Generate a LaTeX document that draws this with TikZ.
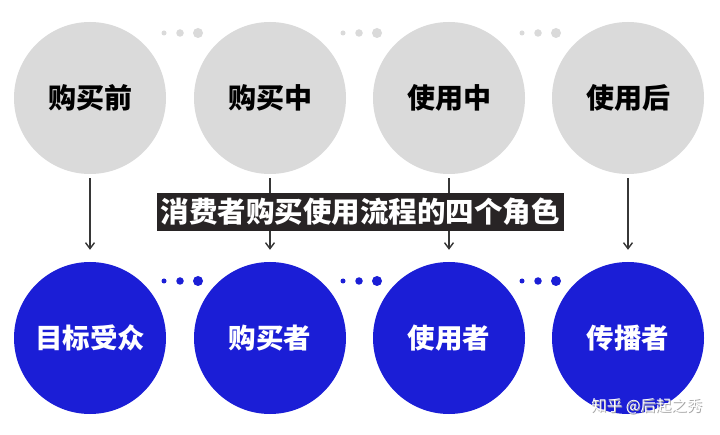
\documentclass[tikz,border=0pt]{standalone}
\usepackage{fontspec}
\newfontfamily\cjk{Noto Sans CJK SC}
\usetikzlibrary{arrows.meta}
\definecolor{cgray}{RGB}{218,218,218}
\definecolor{cblue}{RGB}{27,30,214}
\definecolor{cdark}{RGB}{40,36,37}
\definecolor{carrow}{RGB}{55,55,55}
\tikzset{
  graycirc/.style={circle,fill=cgray,minimum size=152pt,inner sep=0pt,font=\cjk\bfseries\fontsize{28}{28}\selectfont,text=black},
  bluecirc/.style={circle,fill=cblue,minimum size=152pt,inner sep=0pt,font=\cjk\bfseries\fontsize{27.5}{28}\selectfont,text=white},
  conn/.style={draw=carrow,line width=1.4pt,-{Straight Barb[length=6pt,width=9pt,line width=1.4pt]}},
  titlebox/.style={fill=cdark,text=white,inner xsep=4pt,inner ysep=5pt,font=\cjk\bfseries\fontsize{28.5}{28.5}\selectfont},
  gdot/.style={circle,fill=cgray,inner sep=0pt},
  bdot/.style={circle,fill=cblue,inner sep=0pt},
  wmark/.style={font=\cjk\fontsize{15.5}{16}\selectfont,anchor=east}
}
\begin{document}
\begin{tikzpicture}[x=1pt,y=-1pt]
\useasboundingbox[fill=white] (0,0) rectangle (720,435);
% gray circles
\node[graycirc] (g1) at (90,98) {购买前};
\node[graycirc] (g2) at (270,98) {购买中};
\node[graycirc] (g3) at (449,98) {使用中};
\node[graycirc] (g4) at (628,98) {使用后};
% blue circles
\node[bluecirc] (b1) at (90,338) {目标受众};
\node[bluecirc] (b2) at (270,338) {购买者};
\node[bluecirc] (b3) at (449,338) {使用者};
\node[bluecirc] (b4) at (628,338) {传播者};
% dots
\foreach \s in {0,179,358}{
  \node[gdot,minimum size=5pt] at (164+\s,33) {};
  \node[gdot,minimum size=7.5pt] at (180+\s,33) {};
  \node[gdot,minimum size=10pt] at (198+\s,33) {};
  \node[bdot,minimum size=5pt] at (164+\s,281) {};
  \node[bdot,minimum size=7.5pt] at (180+\s,281) {};
  \node[bdot,minimum size=10pt] at (198+\s,281) {};
}
% arrows
\foreach \i in {1,2,3,4}{
  \coordinate (s\i) at ([yshift=-4pt]g\i.south);
  \coordinate (e\i) at ([yshift=12pt]b\i.north);
  \draw[conn] (s\i) -- (e\i);
}
% title
\node[titlebox] (title) at (360,212) {消费者购买使用流程的四个角色};
% watermark
\node[wmark,text=gray!70] (wm0) at (706.8,406.8) {知乎 @后起之秀};
\node[wmark,text=white] (wm) at (706,406) {知乎 @后起之秀};
\end{tikzpicture}
\end{document}
